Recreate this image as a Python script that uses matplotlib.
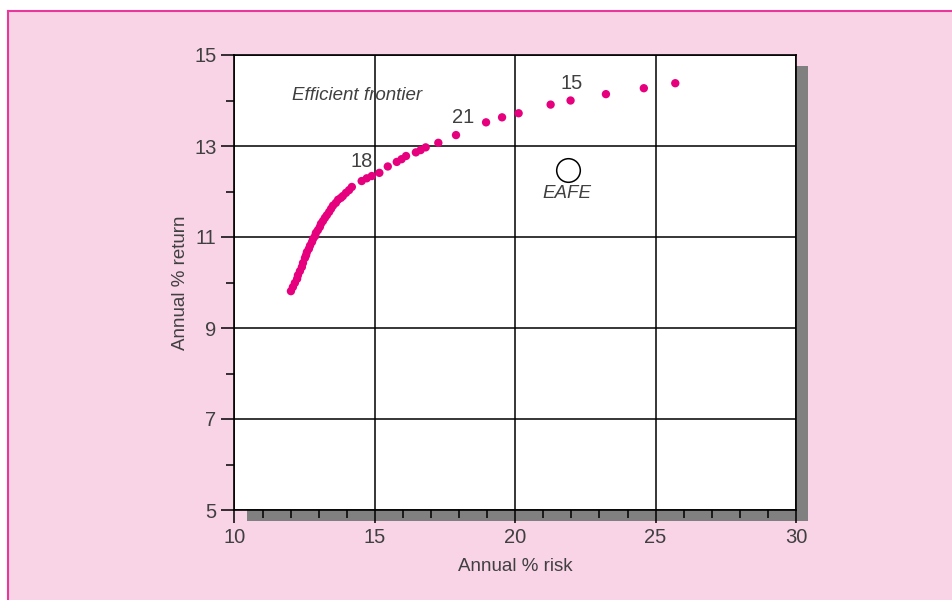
import matplotlib
matplotlib.use("Agg")
import matplotlib.pyplot as plt
from matplotlib.patches import Rectangle

plt.rcParams['font.family'] = ['Liberation Sans', 'DejaVu Sans']

# Efficient frontier points (annual % risk, annual % return)
risk = [12.01, 12.08, 12.15, 12.23, 12.26, 12.33, 12.40, 12.44, 12.51, 12.55,
        12.58, 12.65, 12.69, 12.76, 12.80, 12.87, 12.90, 12.97, 13.04, 13.08,
        13.15, 13.22, 13.29, 13.37, 13.44, 13.51, 13.61, 13.69, 13.79, 13.86,
        13.97, 14.08, 14.18, 14.53, 14.71, 14.89, 15.16, 15.46, 15.78, 15.95,
        16.11, 16.46, 16.63, 16.81, 17.26, 17.89, 18.96, 19.53, 20.12, 21.26,
        21.97, 23.23, 24.58, 25.70]
ret = [9.81, 9.90, 9.99, 10.08, 10.16, 10.25, 10.34, 10.43, 10.54, 10.60,
       10.67, 10.74, 10.81, 10.89, 10.96, 11.02, 11.09, 11.15, 11.22, 11.29,
       11.35, 11.42, 11.48, 11.55, 11.62, 11.69, 11.75, 11.82, 11.86, 11.90,
       11.97, 12.03, 12.10, 12.23, 12.29, 12.34, 12.41, 12.55, 12.65, 12.71,
       12.78, 12.86, 12.91, 12.97, 13.07, 13.24, 13.52, 13.63, 13.72, 13.91,
       14.00, 14.14, 14.27, 14.38]

eafe_risk = [21.88]
eafe_ret = [12.47]

point_labels = ["18", "21", "15"]
point_label_x = [14.52, 18.14, 22.02]
point_label_y = [12.66, 13.62, 14.38]

x_major = [10, 15, 20, 25, 30]
y_major = [5, 7, 9, 11, 13, 15]
x_minor = list(range(10, 31))
y_minor = [6, 8, 10, 12, 14]

W, H = 953, 600
fig = plt.figure(figsize=(W / 100, H / 100), dpi=100)
fig.patch.set_facecolor('white')

# pink panel with magenta border on top/left
panel = Rectangle((8 / W, 0), 1 - 8 / W, 1 - 11 / H, transform=fig.transFigure,
                  facecolor='#f8d4e6', edgecolor='none', zorder=-5)
fig.patches.append(panel)
fig.add_artist(plt.Line2D([8 / W, 8 / W], [0, 1 - 11 / H], color='#e8399a', lw=1.5,
                          transform=fig.transFigure, zorder=-4))
fig.add_artist(plt.Line2D([8 / W, 1], [1 - 11 / H, 1 - 11 / H], color='#e8399a', lw=1.5,
                          transform=fig.transFigure, zorder=-4))

ax_left, ax_right = 234.5 / W, 796 / W
ax_bottom, ax_top = 1 - 510 / H, 1 - 55 / H

# drop shadow
shadow = Rectangle((ax_left + 12 / W, ax_bottom - 11 / H), ax_right - ax_left, ax_top - ax_bottom,
                   transform=fig.transFigure, facecolor='#808080', edgecolor='none', zorder=-1)
fig.patches.append(shadow)

ax = fig.add_axes([ax_left, ax_bottom, ax_right - ax_left, ax_top - ax_bottom])
ax.set_facecolor('white')
ax.set_xlim(10, 30)
ax.set_ylim(5, 15)

ax.set_xticks(x_major)
ax.set_yticks(y_major)
ax.set_xticks(x_minor, minor=True)
ax.set_yticks(y_minor, minor=True)
ax.grid(True, which='major', color='black', lw=1.1)
ax.set_axisbelow(True)

for s in ax.spines.values():
    s.set_color('black')
    s.set_linewidth(1.2)

ax.tick_params(which='major', direction='out', length=9.5, width=1.1, color='black',
               labelsize=14.5, labelcolor='#404040', pad=3.5)
ax.tick_params(which='minor', direction='out', length=5.5, width=1.1, color='black')

ax.scatter(risk, ret, s=36, color='#e6007e', edgecolors='none', zorder=3, clip_on=False)
ax.plot(eafe_risk, eafe_ret, 'o', ms=17, mfc='white', mec='black', mew=1.1, zorder=3)

for t, x, y in zip(point_labels, point_label_x, point_label_y):
    ax.text(x, y, t, fontsize=14.5, color='#404040', ha='center', va='center', zorder=4)

ax.text(14.37, 14.10, 'Efficient frontier', fontsize=13.5, style='italic', color='#404040',
        ha='center', va='center')
ax.text(21.84, 11.95, 'EAFE', fontsize=13.5, style='italic', color='#404040',
        ha='center', va='center')

ax.set_xlabel('Annual % risk', fontsize=13.5, color='#404040', labelpad=8)
ax.set_ylabel('Annual % return', fontsize=13.5, color='#404040', labelpad=4)

fig.savefig('out.png', dpi=100, facecolor=fig.get_facecolor())
